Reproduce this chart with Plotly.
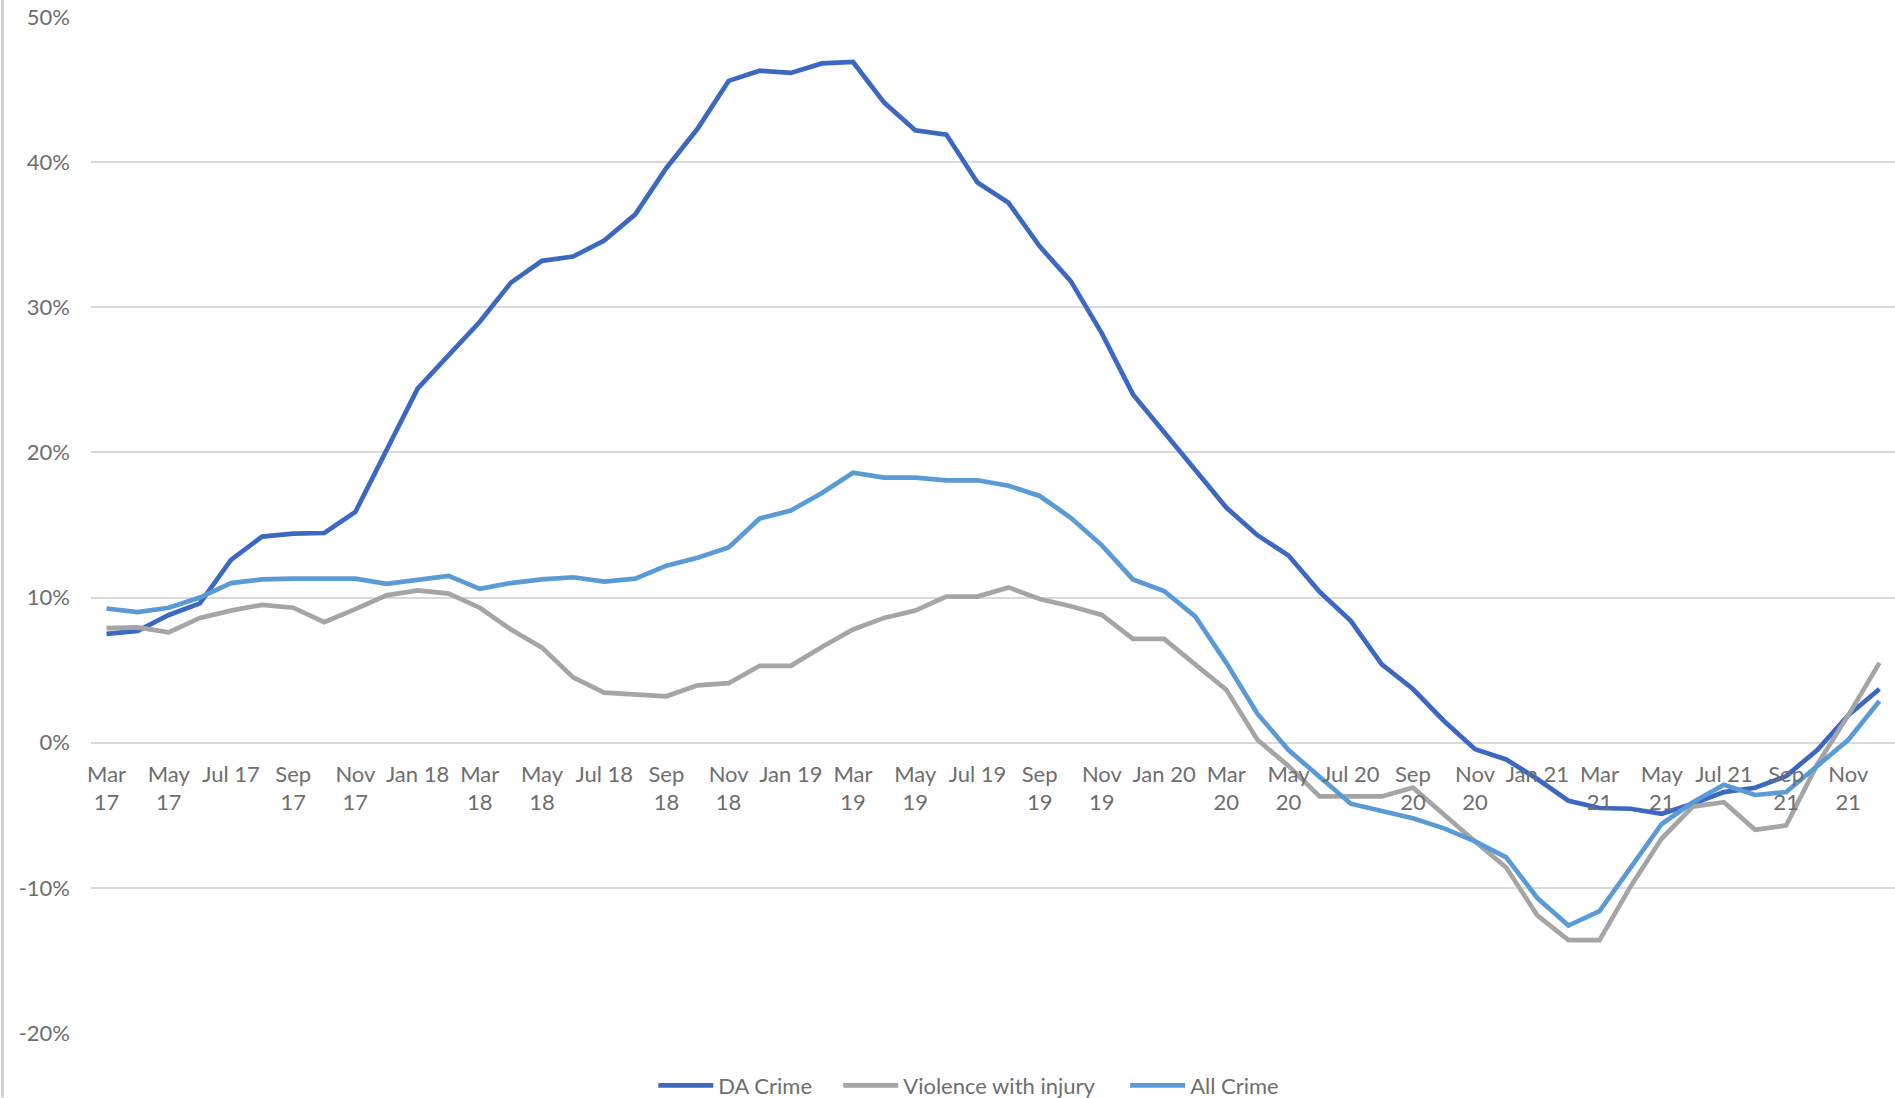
import plotly.graph_objects as go

months = ["Mar 17", "Apr 17", "May 17", "Jun 17", "Jul 17", "Aug 17", "Sep 17", "Oct 17", "Nov 17", "Dec 17",
          "Jan 18", "Feb 18", "Mar 18", "Apr 18", "May 18", "Jun 18", "Jul 18", "Aug 18", "Sep 18", "Oct 18",
          "Nov 18", "Dec 18", "Jan 19", "Feb 19", "Mar 19", "Apr 19", "May 19", "Jun 19", "Jul 19", "Aug 19",
          "Sep 19", "Oct 19", "Nov 19", "Dec 19", "Jan 20", "Feb 20", "Mar 20", "Apr 20", "May 20", "Jun 20",
          "Jul 20", "Aug 20", "Sep 20", "Oct 20", "Nov 20", "Dec 20", "Jan 21", "Feb 21", "Mar 21", "Apr 21",
          "May 21", "Jun 21", "Jul 21", "Aug 21", "Sep 21", "Oct 21", "Nov 21", "Dec 21"]

tick_labels = ["Mar<br>17", "May<br>17", "Jul 17", "Sep<br>17", "Nov<br>17", "Jan 18", "Mar<br>18",
               "May<br>18", "Jul 18", "Sep<br>18", "Nov<br>18", "Jan 19", "Mar<br>19", "May<br>19",
               "Jul 19", "Sep<br>19", "Nov<br>19", "Jan 20", "Mar<br>20", "May<br>20", "Jul 20",
               "Sep<br>20", "Nov<br>20", "Jan 21", "Mar<br>21", "May<br>21", "Jul 21", "Sep<br>21",
               "Nov<br>21"]

da_crime = [7.5, 7.7, 8.8, 9.6, 12.6, 14.2, 14.4, 14.45, 15.9, 20.1,
            24.4, 26.7, 29.0, 31.7, 33.2, 33.5, 34.6, 36.4, 39.6, 42.3,
            45.6, 46.3, 46.15, 46.8, 46.9, 44.1, 42.2, 41.9, 38.6, 37.2,
            34.2, 31.8, 28.2, 24.0, 21.4, 18.8, 16.2, 14.3, 12.9, 10.4,
            8.4, 5.4, 3.7, 1.5, -0.45, -1.15, -2.5, -4.0, -4.5, -4.55,
            -4.9, -4.2, -3.4, -3.1, -2.3, -0.5, 1.9, 3.7]

violence_with_injury = [7.9, 7.95, 7.6, 8.6, 9.1, 9.5, 9.3, 8.3, 9.2, 10.15,
                        10.5, 10.27, 9.3, 7.8, 6.55, 4.5, 3.45, 3.3, 3.2, 3.95,
                        4.1, 5.3, 5.3, 6.6, 7.8, 8.6, 9.1, 10.07, 10.07, 10.7,
                        9.9, 9.4, 8.8, 7.15, 7.15, 5.4, 3.65, 0.2, -1.6, -3.7,
                        -3.7, -3.7, -3.1, -5.0, -6.8, -8.6, -11.9, -13.6, -13.6, -9.9,
                        -6.6, -4.4, -4.1, -6.0, -5.7, -1.5, 1.9, 5.5]

all_crime = [9.25, 9.0, 9.3, 10.0, 11.0, 11.25, 11.3, 11.3, 11.3, 10.95,
             11.25, 11.5, 10.6, 11.0, 11.25, 11.4, 11.1, 11.3, 12.2, 12.75,
             13.45, 15.45, 16.0, 17.2, 18.6, 18.27, 18.27, 18.08, 18.08, 17.7,
             17.0, 15.5, 13.6, 11.25, 10.45, 8.7, 5.5, 2.0, -0.5, -2.3,
             -4.2, -4.7, -5.2, -5.9, -6.8, -7.9, -10.7, -12.6, -11.6, -8.6,
             -5.6, -4.1, -2.9, -3.6, -3.4, -1.6, 0.2, 2.87]

y_ticks = [-20, -10, 0, 10, 20, 30, 40, 50]
y_tick_labels = ["-20%", "-10%", "0%", "10%", "20%", "30%", "40%", "50%"]

FONT = "Lato, 'Open Sans', sans-serif"
TXT = "#6e6e6e"
FS = 22

xs = list(range(len(months)))

W, H = 1895, 1098
L, R, T, B = 90.6, 0, 17, 64.6
ymin, ymax = -20, 50
PW, PH = W - L, H - T - B

def px_x(p):
    return (p - L) / PW

def px_y(p):
    return (H - B - p) / PH

fig = go.Figure()
series = [("DA Crime", da_crime, "#3D68C2", "legend", 653),
          ("Violence with injury", violence_with_injury, "#A5A5A5", "legend2", 838),
          ("All Crime", all_crime, "#5B9BD5", "legend3", 1125)]
legends = {}
for name, vals, col, lg, lx in series:
    fig.add_trace(go.Scatter(x=xs, y=vals, name=name, mode="lines", legend=lg,
                             line=dict(color=col, width=4.7), customdata=months,
                             hovertemplate="%{customdata}: %{y:.1f}%<extra>" + name + "</extra>"))
    legends[lg] = dict(orientation="h", x=px_x(lx), xanchor="left",
                       y=px_y(1086), yanchor="middle",
                       font=dict(family=FONT, size=FS, color=TXT),
                       itemwidth=55, bgcolor="rgba(0,0,0,0)", borderwidth=0)

fig.update_layout(
    width=W, height=H,
    margin=dict(l=L, r=R, t=T, b=B, pad=0, autoexpand=False),
    paper_bgcolor="white", plot_bgcolor="white",
    font=dict(family=FONT, size=FS, color=TXT),
    showlegend=True,
    xaxis=dict(range=[-0.5, len(months) - 0.5], tickmode="array",
               tickvals=xs[::2], ticktext=tick_labels,
               showgrid=False, zeroline=False, showline=False, ticks="",
               tickangle=0, anchor="free",
               position=(0 - ymin) / (ymax - ymin),
               tickfont=dict(family=FONT, size=FS, color=TXT),
               ticklabelstandoff=16, automargin=False),
    yaxis=dict(range=[ymin, ymax], tickmode="array", tickvals=y_ticks,
               ticktext=y_tick_labels, showgrid=True, gridcolor="#D9D9D9",
               gridwidth=2, zeroline=False, showline=False, ticks="",
               tickfont=dict(family=FONT, size=FS, color=TXT),
               ticklabelstandoff=20, automargin=False),
    shapes=[dict(type="line", xref="paper", yref="paper",
                 x0=px_x(2), x1=px_x(2), y0=px_y(H), y1=px_y(0),
                 line=dict(color="#D0D0D0", width=3))],
    **legends,
)

fig.write_html("out.html", config={"displayModeBar": False},
               post_script="document.body.style.margin='0';document.body.style.overflow='hidden';")
